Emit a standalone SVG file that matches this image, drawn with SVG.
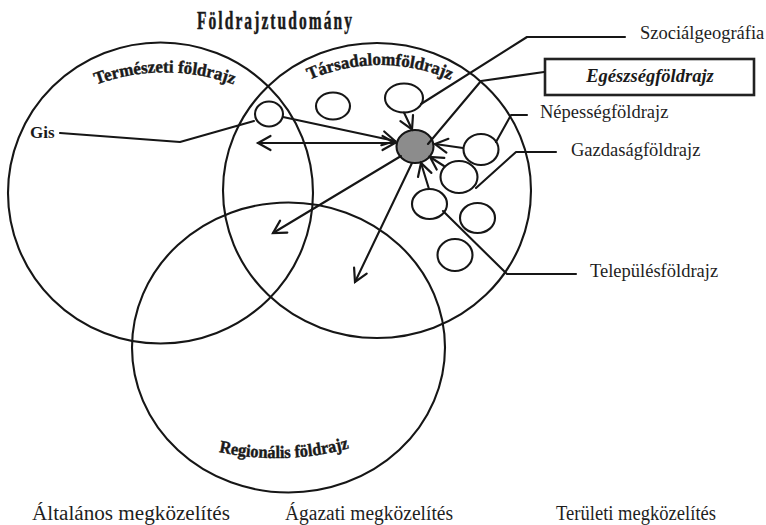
<svg xmlns="http://www.w3.org/2000/svg" width="766" height="525" viewBox="0 0 766 525">
  <style>
    .ring { fill: none; stroke: #161616; stroke-width: 2.1; }
    .bub { fill: #fff; stroke: #161616; stroke-width: 2.1; }
    .hub { fill: #8c8c8c; stroke: #161616; stroke-width: 2.1; }
    .ln { fill: none; stroke: #161616; stroke-width: 2.1; stroke-linejoin: round; stroke-linecap: round; }
    .tip { fill: none; stroke: #161616; stroke-width: 2.2; stroke-linejoin: miter; stroke-linecap: round; }
    .lbl { font-family: "Liberation Serif", "Times New Roman", serif; font-size: 18.5px; fill: #1e1e1e; }
    .field { font-family: "Liberation Serif", "Times New Roman", serif; font-size: 17.5px; font-weight: bold; fill: #1a1a1a; stroke: #1a1a1a; stroke-width: 0.45; }
    .foot { font-family: "Liberation Serif", "Times New Roman", serif; font-size: 20px; fill: #1e1e1e; }
  </style>
  <defs>
    <path id="arcTerm" d="M 90,87 A 200,200 0 0 1 240,87"/>
    <path id="arcTars" d="M 305,82 A 174,174 0 0 1 455,82"/>
    <path id="arcReg" d="M 214,451 Q 284,467 354,447"/>
  </defs>

  <rect width="766" height="525" fill="#fff"/>

  <!-- title, condensed and letter-spaced -->
  <text id="title" transform="translate(197,29) scale(0.62,1)" x="0" y="0" font-family="'Liberation Serif', 'Times New Roman', serif" font-size="25" font-weight="bold" fill="#1a1a1a" stroke="#1a1a1a" stroke-width="0.5" textLength="250" lengthAdjust="spacing">Földrajztudomány</text>

  <!-- three main fields -->
  <g id="termeszeti">
    <ellipse class="ring" cx="160.5" cy="193" rx="152.5" ry="150.5"/>
    <text class="field"><textPath href="#arcTerm" startOffset="50%" text-anchor="middle" textLength="140" lengthAdjust="spacingAndGlyphs">Természeti földrajz</textPath></text>
  </g>
  <g id="tarsadalom">
    <ellipse class="ring" cx="377" cy="190.5" rx="154" ry="147.5"/>
    <text class="field"><textPath href="#arcTars" startOffset="50%" text-anchor="middle" textLength="145" lengthAdjust="spacingAndGlyphs">Társadalomföldrajz</textPath></text>
  </g>
  <g id="regionalis">
    <ellipse class="ring" cx="288.5" cy="347.5" rx="156.5" ry="145"/>
    <text class="field"><textPath href="#arcReg" startOffset="50%" text-anchor="middle" textLength="132" lengthAdjust="spacingAndGlyphs">Regionális földrajz</textPath></text>
  </g>

  <!-- sub-discipline bubbles -->
  <g id="gis">
    <ellipse class="bub" cx="269" cy="114" rx="14" ry="12.5"/>
    <text x="30" y="138" font-family="'Liberation Serif', 'Times New Roman', serif" font-size="17" font-weight="bold" fill="#1a1a1a">Gis</text>
  </g>
  <g id="bubble-a"><ellipse class="bub" cx="333" cy="106" rx="17" ry="13.5"/></g>
  <g id="szocialgeografia">
    <ellipse class="bub" cx="404" cy="98" rx="19" ry="14.5"/>
    <text class="lbl" x="640" y="39">Szociálgeográfia</text>
  </g>
  <g id="egeszsegfoldrajz">
    <ellipse class="hub" cx="415" cy="146.5" rx="18.5" ry="16.5"/>
    <rect x="545" y="59" width="209" height="36" fill="#fff" stroke="#222" stroke-width="2.6"/>
    <text x="650" y="82" text-anchor="middle" font-family="'Liberation Serif', 'Times New Roman', serif" font-size="18.5" font-weight="bold" font-style="italic" fill="#1a1a1a">Egészségföldrajz</text>
  </g>
  <g id="nepessegfoldrajz">
    <ellipse class="bub" cx="481" cy="149.5" rx="17.5" ry="15.5"/>
    <text class="lbl" x="540" y="118">Népességföldrajz</text>
  </g>
  <g id="gazdasagfoldrajz">
    <ellipse class="bub" cx="459" cy="177" rx="18.5" ry="16"/>
    <text class="lbl" x="571" y="156">Gazdaságföldrajz</text>
  </g>
  <g id="telepulesfoldrajz">
    <ellipse class="bub" cx="429.5" cy="204" rx="17.5" ry="15"/>
    <text class="lbl" x="590" y="277">Településföldrajz</text>
  </g>
  <g id="bubble-b"><ellipse class="bub" cx="477.5" cy="218" rx="17.5" ry="15"/></g>
  <g id="bubble-c"><ellipse class="bub" cx="455" cy="255" rx="17.5" ry="16"/></g>

  <!-- connectors -->
  <g id="connectors">
    <!-- leaders -->
    <polyline class="ln" points="60,133 180,142 254,121"/>
    <polyline class="ln" points="625,37 527,37 421,104"/>
    <polyline class="ln" points="544,72 481,81 428,144"/>
    <polyline class="ln" points="527,115 511,115 496,142"/>
    <polyline class="ln" points="556,152 516,152 476,188"/>
    <polyline class="ln" points="576,274 507,274 443,211"/>
    <!-- arrows: shaft, then open tip -->
    <line class="ln" x1="258" y1="143" x2="395" y2="143"/>
    <polyline class="tip" points="382.5,136 395,143 382.5,150"/>
    <polyline class="tip" points="270.5,150 258,143 270.5,136"/>
    <line class="ln" x1="283" y1="117" x2="395" y2="141"/>
    <polyline class="tip" points="384.2,131.5 395,141 381.3,145.2"/>
    <line class="ln" x1="401" y1="156" x2="273" y2="233"/>
    <polyline class="tip" points="287.3,232.6 273,233 280.1,220.6"/>
    <line class="ln" x1="412" y1="163" x2="355" y2="282"/>
    <polyline class="tip" points="366.7,273.7 355,282 354.1,267.7"/>
    <line class="ln" x1="404" y1="112.5" x2="412" y2="129.5"/>
    <polyline class="tip" points="413,115.2 412,129.5 400.4,121.2"/>
    <line class="ln" x1="463" y1="148" x2="435" y2="144"/>
    <polyline class="tip" points="446.4,152.7 435,144 448.4,138.8"/>
    <line class="ln" x1="444" y1="166" x2="430" y2="157"/>
    <polyline class="tip" points="436.7,169.6 430,157 444.3,157.9"/>
    <line class="ln" x1="429" y1="189" x2="421" y2="163"/>
    <polyline class="tip" points="418,177 421,163 431.4,172.9"/>
  </g>

  <!-- approaches -->
  <text class="foot" x="32" y="520" textLength="198" lengthAdjust="spacingAndGlyphs">Általános megközelítés</text>
  <text class="foot" x="285" y="520" textLength="168" lengthAdjust="spacingAndGlyphs">Ágazati megközelítés</text>
  <text class="foot" x="556" y="520" textLength="160" lengthAdjust="spacingAndGlyphs">Területi megközelítés</text>
</svg>
